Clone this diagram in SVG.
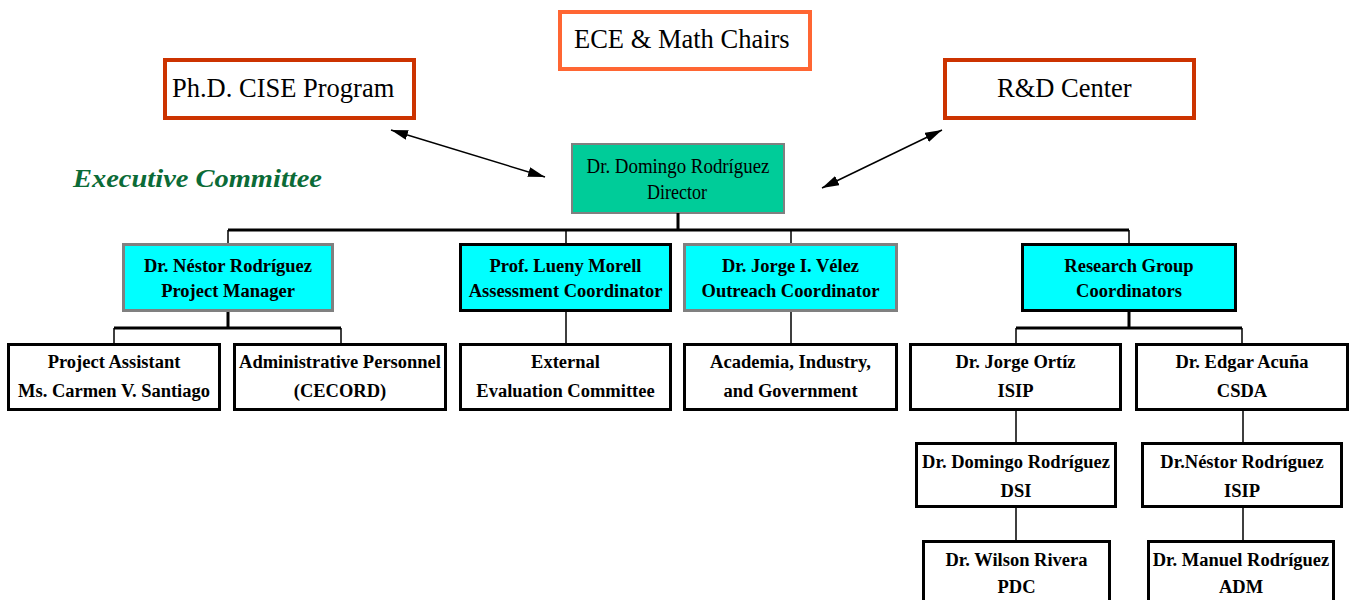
<svg xmlns="http://www.w3.org/2000/svg" width="1349" height="600" viewBox="0 0 1349 600">
<style>
.top rect{fill:#fff;stroke-width:4}
.top text{font-family:"Liberation Serif","Times New Roman",serif;font-size:26.5px;fill:#000}
.n rect{stroke-width:3}
.n text{font-family:"Liberation Serif","Times New Roman",serif;font-size:18.5px;font-weight:bold;fill:#000;text-anchor:middle}
.cy rect{fill:#00FFFF}
.wh rect{fill:#fff;stroke:#000}
.gray rect{stroke:#808080}
.blk rect{stroke:#000}
.thick{stroke:#000;stroke-width:3;fill:none}
.thin{stroke:#000;stroke-width:1.5;fill:none}
</style>
<defs>
<marker id="ah" markerUnits="userSpaceOnUse" markerWidth="18" markerHeight="12" refX="17" refY="5" orient="auto-start-reverse">
<path d="M0,0 L17,5 L0,10 z" fill="#000"/>
</marker>
</defs>
<rect width="1349" height="600" fill="#fff"/>

<g id="ece" class="top"><rect x="560" y="12" width="250" height="57" stroke="#FF6633"/><text x="574" y="48">ECE &amp; Math Chairs</text></g>
<g id="phd" class="top"><rect x="165" y="60" width="249" height="58" stroke="#CC3300"/><text x="172" y="97">Ph.D. CISE Program</text></g>
<g id="rd" class="top"><rect x="945" y="60" width="249" height="58" stroke="#CC3300"/><text x="997" y="97">R&amp;D Center</text></g>

<text id="exec" x="73" y="187" font-family="'Liberation Serif','Times New Roman',serif" font-size="26px" font-weight="bold" font-style="italic" fill="#0B6B37" textLength="249" lengthAdjust="spacingAndGlyphs">Executive Committee</text>

<g id="director"><rect x="572" y="144" width="212" height="69" fill="#00CC99" stroke="#808080" stroke-width="2"/>
<g font-family="'Liberation Serif','Times New Roman',serif" font-size="20px" fill="#000" text-anchor="middle"><text x="678" y="173" textLength="183" lengthAdjust="spacingAndGlyphs">Dr. Domingo Rodríguez</text><text x="677" y="199" textLength="60" lengthAdjust="spacingAndGlyphs">Director</text></g></g>

<g id="connectors">
<line class="thin" x1="391" y1="130" x2="545" y2="177" stroke="#000" stroke-width="1.8" marker-start="url(#ah)" marker-end="url(#ah)"/>
<line class="thin" x1="942" y1="130" x2="822" y2="188" stroke="#000" stroke-width="1.8" marker-start="url(#ah)" marker-end="url(#ah)"/>
<path class="thick" d="M678,213 V230 M228,230 H1129"/>
<path class="thin" d="M228,230 V243 M566,230 V243 M791,230 V243 M1129,230 V243"/>
<path class="thick" d="M228,312 V328 M114,328 H341"/>
<path class="thin" d="M114,328 V343 M341,328 V343"/>
<path class="thin" d="M566,312 V343 M791,312 V343"/>
<path class="thick" d="M1129,312 V328 M1016,328 H1242"/>
<path class="thin" d="M1016,328 V343 M1242,328 V343"/>
<path class="thin" d="M1016,410 V442 M1016,508 V540 M1243,410 V442 M1243,508 V540"/>
</g>

<g id="nestor" class="n cy gray"><rect x="123.5" y="244.5" width="209" height="66"/><text x="228" y="272">Dr. Néstor Rodríguez</text><text x="228" y="297">Project Manager</text></g>
<g id="lueny" class="n cy blk"><rect x="460.5" y="244.5" width="210" height="66"/><text x="565.5" y="272">Prof. Lueny Morell</text><text x="565.5" y="297">Assessment Coordinator</text></g>
<g id="velez" class="n cy gray"><rect x="684.5" y="244.5" width="212" height="66"/><text x="790.5" y="272">Dr. Jorge I. Vélez</text><text x="790.5" y="297">Outreach Coordinator</text></g>
<g id="research" class="n cy blk"><rect x="1022.5" y="244.5" width="213" height="66"/><text x="1129" y="272">Research Group</text><text x="1129" y="297">Coordinators</text></g>

<g id="assistant" class="n wh"><rect x="8.5" y="344.5" width="211" height="65"/><text x="114" y="368">Project Assistant</text><text x="114" y="397">Ms. Carmen V. Santiago</text></g>
<g id="admin" class="n wh"><rect x="234.5" y="344.5" width="211" height="65"/><text x="340" y="368">Administrative Personnel</text><text x="340" y="397">(CECORD)</text></g>
<g id="external" class="n wh"><rect x="460.5" y="344.5" width="210" height="65"/><text x="565.5" y="368">External</text><text x="565.5" y="397">Evaluation Committee</text></g>
<g id="academia" class="n wh"><rect x="684.5" y="344.5" width="212" height="65"/><text x="790.5" y="368">Academia, Industry,</text><text x="790.5" y="397">and Government</text></g>
<g id="ortiz" class="n wh"><rect x="910.5" y="344.5" width="210" height="65"/><text x="1015.5" y="368">Dr. Jorge Ortíz</text><text x="1015.5" y="397">ISIP</text></g>
<g id="acuna" class="n wh"><rect x="1136.5" y="344.5" width="211" height="65"/><text x="1242" y="368">Dr. Edgar Acuña</text><text x="1242" y="397">CSDA</text></g>

<g id="domingo-dsi" class="n wh"><rect x="916.5" y="443.5" width="199" height="63"/><text x="1016" y="468">Dr. Domingo Rodríguez</text><text x="1016" y="497">DSI</text></g>
<g id="nestor-isip" class="n wh"><rect x="1142.5" y="443.5" width="199" height="63"/><text x="1242" y="468">Dr.Néstor Rodríguez</text><text x="1242" y="497">ISIP</text></g>

<g id="wilson" class="n wh"><rect x="923.5" y="541.5" width="186" height="70"/><text x="1016.5" y="566">Dr. Wilson Rivera</text><text x="1016.5" y="593">PDC</text></g>
<g id="manuel" class="n wh"><rect x="1148.5" y="541.5" width="185" height="70"/><text x="1241" y="566">Dr. Manuel Rodríguez</text><text x="1241" y="593">ADM</text></g>
</svg>
